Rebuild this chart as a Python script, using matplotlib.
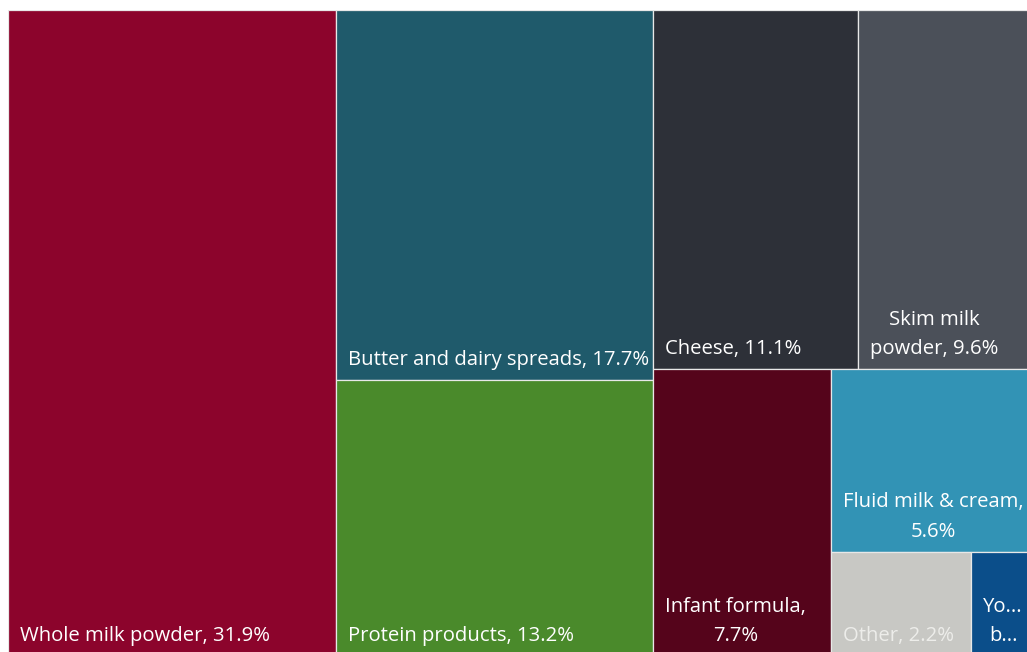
import matplotlib
matplotlib.use("Agg")
import matplotlib.pyplot as plt
from matplotlib.patches import Rectangle

plt.rcParams['font.family'] = ['Open Sans', 'DejaVu Sans']

# Dairy export shares (%)
categories = ['Whole milk powder', 'Butter and dairy spreads', 'Protein products', 'Cheese',
              'Skim milk powder', 'Infant formula', 'Fluid milk & cream', 'Other',
              'Yoghurt and buttermilk']
shares = [31.9, 17.7, 13.2, 11.1, 9.6, 7.7, 5.6, 2.2, 1.0]
labels = ['Whole milk powder, 31.9%', 'Butter and dairy spreads, 17.7%', 'Protein products, 13.2%',
          'Cheese, 11.1%', 'Skim milk\npowder, 9.6%', 'Infant formula,\n7.7%',
          'Fluid milk & cream,\n5.6%', 'Other, 2.2%', 'Yo...\nb...']
colors = ['#8C042C', '#1F5A6B', '#4A8A2B', '#2D3038', '#4B5059', '#55041B', '#3293B5',
          '#C8C8C4', '#0B4E8A']
text_colors = ['white'] * 7 + ['#EDEDEA', 'white']

# how many items go in each strip of the treemap
strips = [1, 2, 2, 1, 1, 1, 1]

# the treemap runs a little past the right and bottom edges of the image
W, H = 1027, 646


def treemap(vals, x, y, w, h, strips):
    rects = []
    i = 0
    for n in strips:
        group = vals[i:i + n]
        total = sum(vals[i:])
        frac = sum(group) / total
        if w >= h:
            cw = w * frac
            yy = y
            for v in group:
                hh = h * v / sum(group)
                rects.append((x, yy, cw, hh))
                yy += hh
            x += cw
            w -= cw
        else:
            rh = h * frac
            xx = x
            for v in group:
                ww = w * v / sum(group)
                rects.append((xx, y, ww, rh))
                xx += ww
            y += rh
            h -= rh
        i += n
    return rects


rects = treemap(shares, 0, 0, W, H, strips)

fig = plt.figure(figsize=(10.27, 6.52), dpi=100)
ax = fig.add_axes([8 / 1027, -4 / 652, W / 1027, H / 652])
ax.set_xlim(0, W)
ax.set_ylim(H, 0)
ax.axis('off')

for (x, y, w, h), c, lab, tc in zip(rects, colors, labels, text_colors):
    ax.add_patch(Rectangle((x, y), w, h, facecolor=c, edgecolor='#E8E8E8', linewidth=0.9))
    ax.annotate(lab, xy=(x, y + h), xytext=(8.6, 7.3), textcoords='offset points',
                ha='left', va='bottom', multialignment='center', linespacing=1.62,
                color=tc, fontsize=14.6, annotation_clip=False)

fig.savefig('out.png', dpi=100)
